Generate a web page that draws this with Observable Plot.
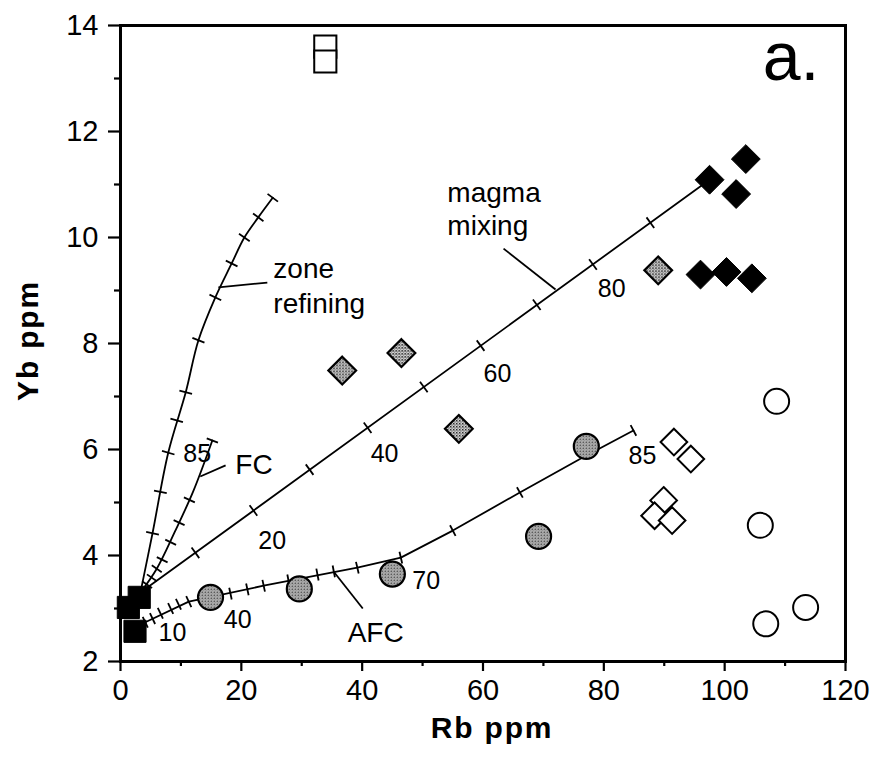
<!DOCTYPE html>
<html><head><meta charset="utf-8">
<script src="https://cdn.jsdelivr.net/npm/d3@7"></script>
<script src="https://cdn.jsdelivr.net/npm/@observablehq/plot@0.6"></script>
<style>body{margin:0;background:#fff} #chart{position:absolute;left:0;top:0} .axlab text{letter-spacing:1.8px}</style>
</head><body><div id="chart"></div>
<script>
// ---------- data ----------
const openSquareX = [33.9, 33.9];
const openSquareY = [13.60, 13.32];
const blackSquareX = [1.3, 3.1, 2.4];
const blackSquareY = [3.02, 3.21, 2.57];
const blackDiamondX = [97.5, 103.5, 101.9, 96.0, 100.3, 104.5];
const blackDiamondY = [11.09, 11.48, 10.82, 9.30, 9.35, 9.23];
const stipDiamondX = [36.7, 46.5, 56.0, 89.0];
const stipDiamondY = [7.49, 7.82, 6.39, 9.38];
const openDiamondX = [91.6, 94.4, 89.9, 88.4, 91.3];
const openDiamondY = [6.14, 5.82, 5.04, 4.75, 4.66];
const openCircleX = [108.6, 105.9, 113.4, 106.8];
const openCircleY = [6.91, 4.57, 3.02, 2.71];
const stipCircleX = [14.9, 29.6, 45.0, 69.2, 77.1];
const stipCircleY = [3.21, 3.37, 3.65, 4.36, 6.06];

// model curves (Rb, Yb)
const mixingPath = [[3.3, 3.30], [97.5, 11.09]];
const mixingTicks = [[12.4, 4.05], [22.0, 4.85], [31.3, 5.62], [40.9, 6.41], [50.2, 7.18], [59.6, 7.96], [68.9, 8.73], [78.2, 9.49], [87.7, 10.28]];
const zonePath = [[3.3, 3.30], [5.3, 4.42], [7.9, 5.94], [10.8, 7.08], [12.9, 8.06], [15.7, 8.87], [18.4, 9.51], [20.5, 10.00], [22.8, 10.38], [25.2, 10.75]];
const zoneTicks = [[5.3, 4.42], [6.6, 5.20], [7.9, 5.94], [9.3, 6.55], [10.8, 7.08], [12.9, 8.06], [15.7, 8.87], [18.4, 9.51], [20.5, 10.00], [22.8, 10.38], [25.2, 10.75]];
const fcPath = [[3.3, 3.30], [6.0, 3.75], [9.0, 4.45], [12.0, 5.20], [15.2, 6.17]];
const fcTicks = [[4.4, 3.45], [5.2, 3.58], [6.0, 3.75], [6.9, 3.92], [8.3, 4.25], [9.7, 4.62], [11.4, 5.05], [15.2, 6.17]];
const afcPath = [[4.1, 2.74], [11.3, 3.13], [23.7, 3.43], [39.2, 3.77], [46.4, 3.96], [55.0, 4.47], [66.1, 5.19], [76.5, 5.85], [84.9, 6.36]];
const afcTicks = [[4.1, 2.74], [5.3, 2.81], [6.6, 2.91], [8.3, 3.00], [9.6, 3.08], [11.3, 3.13], [18.2, 3.28], [21.0, 3.36], [23.7, 3.43], [27.8, 3.53], [32.6, 3.64], [35.3, 3.70], [39.2, 3.77], [46.4, 3.96], [55.0, 4.47], [66.1, 5.19], [84.9, 6.36]];

// leader lines [x1, y1, x2, y2]
const leaders = [[16.2, 9.06, 24.3, 9.15], [63.4, 9.79, 72.0, 9.02], [13.2, 5.49, 17.4, 5.70], [35.4, 3.68, 40.1, 3.00]];

// text labels
const wordText = ["magma", "mixing", "zone", "refining", "FC", "AFC"];
const wordX = [54.1, 54.1, 25.3, 25.3, 19.0, 37.6];
const wordY = [10.83, 10.21, 9.40, 8.74, 5.70, 2.53];
const numText = ["85", "20", "40", "60", "80", "10", "40", "70", "85"];
const numX = [10.4, 22.8, 41.4, 60.1, 79.0, 6.3, 17.1, 48.3, 84.1];
const numY = [5.92, 4.28, 5.91, 7.43, 9.02, 2.53, 2.79, 3.51, 5.87];

const xMajor = [0, 20, 40, 60, 80, 100, 120];
const xMinor = [10, 30, 50, 70, 90, 110];
const yMajor = [2, 4, 6, 8, 10, 12, 14];
const yMinor = [3, 5, 7, 9, 11, 13];

// ---------- chart ----------
const W = 883, H = 765, mL = 120, mR = 38, mT = 25, mB = 104;
const kx = (W - mL - mR) / 120, ky = (H - mT - mB) / 12;
const FONT = "'Liberation Sans', Arial, Helvetica, sans-serif";

const pts = (xs, ys) => xs.map((x, i) => ({x, y: ys[i]}));

// perpendicular tick segments along a polyline (through the scales' px/unit)
function tickSegs(path, ticks, len) {
  return ticks.map(([tx, ty]) => {
    let best = 0, bd = Infinity;
    for (let i = 0; i < path.length - 1; i++) {
      const mx = (path[i][0] + path[i + 1][0]) / 2, my = (path[i][1] + path[i + 1][1]) / 2;
      const d = Math.hypot((mx - tx) * kx, (my - ty) * ky);
      if (d < bd) { bd = d; best = i; }
    }
    const a = path[best], b = path[best + 1];
    let ux = (b[0] - a[0]) * kx, uy = -(b[1] - a[1]) * ky;
    const n = Math.hypot(ux, uy); ux /= n; uy /= n;
    const px = -uy * len / 2, py = ux * len / 2;
    return {x1: tx - px / kx, y1: ty + py / ky, x2: tx + px / kx, y2: ty - py / ky};
  });
}
const lineData = (path) => path.map(([x, y]) => ({x, y}));

const allTicks = [
  ...tickSegs(mixingPath, mixingTicks, 13),
  ...tickSegs(zonePath, zoneTicks, 13),
  ...tickSegs(fcPath, fcTicks, 12),
  ...tickSegs(afcPath, afcTicks, 12)
];

const chart = Plot.plot({
  width: W, height: H,
  marginLeft: mL, marginRight: mR, marginTop: mT, marginBottom: mB,
  x: {domain: [0, 120], label: null},
  y: {domain: [2, 14], label: null},
  style: {fontFamily: FONT, background: "#fff", color: "#000"},
  marks: [
    Plot.axisX({ticks: xMajor, tickSize: 10, tickPadding: 8, fontSize: 29, strokeWidth: 2.2, label: null}),
    Plot.axisX({ticks: xMinor, tickSize: 5, tickFormat: () => "", strokeWidth: 2.2, label: null}),
    Plot.axisY({ticks: yMajor, tickSize: 12, tickPadding: 10, fontSize: 29, strokeWidth: 2.2, label: null}),
    Plot.axisY({ticks: yMinor, tickSize: 6, tickFormat: () => "", strokeWidth: 2.2, label: null}),
    Plot.frame({stroke: "#000", strokeWidth: 3}),
    // model curves
    Plot.line(lineData(mixingPath), {x: "x", y: "y", stroke: "#000", strokeWidth: 1.8}),
    Plot.line(lineData(zonePath), {x: "x", y: "y", stroke: "#000", strokeWidth: 1.8, curve: "catmull-rom"}),
    Plot.line(lineData(fcPath), {x: "x", y: "y", stroke: "#000", strokeWidth: 1.8, curve: "catmull-rom"}),
    Plot.line(lineData(afcPath), {x: "x", y: "y", stroke: "#000", strokeWidth: 1.8}),
    Plot.link(allTicks, {x1: "x1", y1: "y1", x2: "x2", y2: "y2", stroke: "#000", strokeWidth: 1.8}),
    Plot.link(leaders, {x1: d => d[0], y1: d => d[1], x2: d => d[2], y2: d => d[3], stroke: "#000", strokeWidth: 1.8}),
    // data symbols
    Plot.dot(pts(openSquareX, openSquareY), {x: "x", y: "y", symbol: "square", r: 12.5, fill: "#fff", stroke: "#000", strokeWidth: 2}),
    Plot.dot(pts(blackSquareX, blackSquareY), {x: "x", y: "y", symbol: "square", r: 12.5, fill: "#000", stroke: "#000", strokeWidth: 1}),
    Plot.dot(pts(stipDiamondX, stipDiamondY), {x: "x", y: "y", symbol: "diamond2", r: 12.5, fill: "#999", stroke: "#000", strokeWidth: 2.2, className: "stip"}),
    Plot.dot(pts(blackDiamondX, blackDiamondY), {x: "x", y: "y", symbol: "diamond2", r: 13, fill: "#000", stroke: "#000", strokeWidth: 1}),
    Plot.dot(pts(openDiamondX, openDiamondY), {x: "x", y: "y", symbol: "diamond2", r: 12, fill: "#fff", stroke: "#000", strokeWidth: 2}),
    Plot.dot(pts(openCircleX, openCircleY), {x: "x", y: "y", r: 12.5, fill: "#fff", stroke: "#000", strokeWidth: 2}),
    Plot.dot(pts(stipCircleX, stipCircleY), {x: "x", y: "y", r: 12.5, fill: "#999", stroke: "#000", strokeWidth: 2.2, className: "stip"}),
    // labels
    Plot.text(wordText, {x: (d, i) => wordX[i], y: (d, i) => wordY[i], text: d => d, textAnchor: "start", fontSize: 28, fill: "#000"}),
    Plot.text(numText, {x: (d, i) => numX[i], y: (d, i) => numY[i], text: d => d, textAnchor: "start", fontSize: 25, fill: "#000"}),
    Plot.text(["a."], {frameAnchor: "top-right", dx: -26, dy: 6, fontSize: 68, textAnchor: "end", lineAnchor: "top", fill: "#000"}),
    Plot.text(["Yb ppm"], {frameAnchor: "left", dx: -92, dy: -3, rotate: -90, textAnchor: "middle", fontSize: 30, fontWeight: "bold", fill: "#000", className: "axlab"}),
    Plot.text(["Rb ppm"], {frameAnchor: "bottom", dx: 9, dy: 76, textAnchor: "middle", fontSize: 30, fontWeight: "bold", fill: "#000", className: "axlab"})
  ]
});

// stipple pattern
const ns = "http://www.w3.org/2000/svg";
const defs = document.createElementNS(ns, "defs");
defs.innerHTML = '<pattern id="stip" width="3" height="3" patternUnits="userSpaceOnUse"><rect width="3" height="3" fill="#fff"/><rect width="1.6" height="1.6" fill="#111"/><rect x="1.5" y="1.5" width="1.2" height="1.2" fill="#111"/></pattern>';
chart.insertBefore(defs, chart.firstChild);
chart.querySelectorAll("g.stip").forEach(g => g.setAttribute("fill", "url(#stip)"));

document.getElementById("chart").appendChild(chart);
</script>
</body></html>
